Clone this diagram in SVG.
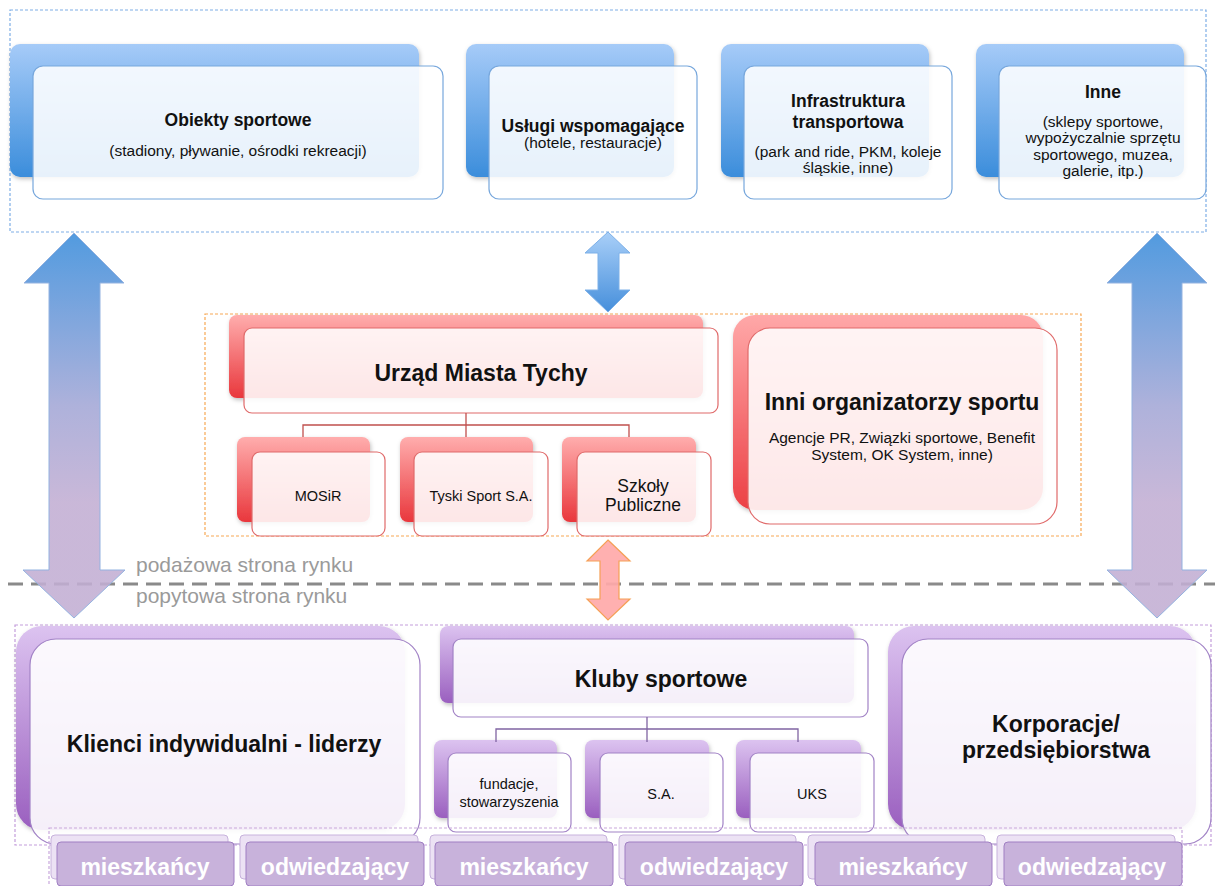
<svg xmlns="http://www.w3.org/2000/svg" width="1215" height="886" viewBox="0 0 1215 886">
<defs>
<linearGradient id="gBlue" x1="0" y1="0" x2="0" y2="1"><stop offset="0" stop-color="#a6cbf8"/><stop offset="1" stop-color="#3b8ddb"/></linearGradient>
<linearGradient id="gRed" x1="0" y1="0" x2="0" y2="1"><stop offset="0" stop-color="#ffadad"/><stop offset="1" stop-color="#e9373c"/></linearGradient>
<linearGradient id="gRedH" x1="0" y1="0" x2="0" y2="1"><stop offset="0" stop-color="#ffa8a8"/><stop offset="1" stop-color="#ec4045"/></linearGradient>
<linearGradient id="gPurple" x1="0" y1="0" x2="0" y2="1"><stop offset="0" stop-color="#dcc3f0"/><stop offset="1" stop-color="#9a5fbf"/></linearGradient>
<linearGradient id="gArrowBig" gradientUnits="userSpaceOnUse" x1="0" y1="233" x2="0" y2="618"><stop offset="0" stop-color="#3a8ddb"/><stop offset="0.45" stop-color="#a3a7d6"/><stop offset="0.7" stop-color="#c2aed3"/><stop offset="1" stop-color="#c2aed3"/></linearGradient>
<linearGradient id="gArrowMid" x1="0" y1="0" x2="0" y2="1"><stop offset="0" stop-color="#a9cff8"/><stop offset="1" stop-color="#468fdb"/></linearGradient>
<filter id="sh" x="-10%" y="-10%" width="130%" height="130%"><feDropShadow dx="1" dy="2" stdDeviation="2" flood-color="#000" flood-opacity="0.25"/></filter>
</defs>
<style>
text{font-family:"Liberation Sans",Arial,sans-serif;fill:#111;text-anchor:middle}
.b{font-weight:bold}
.t18{font-size:17.5px}
.t23{font-size:23px}
.s15{font-size:15.5px}
.s14{font-size:14.5px}
.bf{fill:url(#gBlue);filter:url(#sh)}
.bfr{fill:rgba(255,255,255,0.88);stroke:#77a7dc;stroke-width:1.2}
.rf{fill:url(#gRed);filter:url(#sh)}
.rfr{fill:rgba(255,255,255,0.88);stroke:#e06a6a;stroke-width:1.2}
.pf{fill:url(#gPurple);filter:url(#sh)}
.pfr{fill:rgba(255,255,255,0.9);stroke:#a283c6;stroke-width:1.2}
.tagb{fill:#ece2f4;stroke:#c7b2dc;stroke-width:1}
.tagf{fill:#c8b2db;stroke:#a07fc3;stroke-width:1}
.tagt{font-size:23px;font-weight:bold;fill:#fff}
.gray{font-size:21px;fill:#9a9a9a;text-anchor:start}
.cont{fill:none;stroke-width:1.2;stroke-dasharray:3 2}
</style>

<!-- containers -->
<rect class="cont" x="10" y="10" width="1196" height="222" stroke="#7eaee6"/>
<rect class="cont" x="205" y="314" width="876" height="222" stroke="#f7a854"/>
<line x1="8" y1="584" x2="1215" y2="584" stroke="#8a8a8a" stroke-width="3" stroke-dasharray="15 8"/>
<text class="gray" x="136" y="572">podażowa strona rynku</text>
<text class="gray" x="136" y="603">popytowa strona rynku</text>
<rect class="cont" x="15" y="625" width="1196" height="220" stroke="#c39ddb"/>

<!-- top row -->
<g id="obiekty">
<rect class="bf" x="10" y="44" width="409" height="133" rx="10"/>
<rect class="bfr" x="33" y="66" width="410" height="133" rx="10"/>
<text class="b t18" x="238" y="126">Obiekty sportowe</text>
<text class="s15" x="238" y="156">(stadiony, pływanie, ośrodki rekreacji)</text>
</g>
<g id="uslugi">
<rect class="bf" x="466" y="44" width="208" height="133" rx="10"/>
<rect class="bfr" x="489" y="66" width="208" height="133" rx="10"/>
<text class="b t18" x="593" y="132">Usługi wspomagające</text>
<text class="s15" x="593" y="148">(hotele, restauracje)</text>
</g>
<g id="infrastruktura">
<rect class="bf" x="721" y="44" width="208" height="133" rx="10"/>
<rect class="bfr" x="744" y="66" width="208" height="133" rx="10"/>
<text class="b t18" x="848" y="107">Infrastruktura</text>
<text class="b t18" x="848" y="128">transportowa</text>
<text class="s15" x="848" y="157">(park and ride, PKM, koleje</text>
<text class="s15" x="848" y="173">śląskie, inne)</text>
</g>
<g id="inne">
<rect class="bf" x="976" y="44" width="208" height="133" rx="10"/>
<rect class="bfr" x="999" y="66" width="207" height="133" rx="10"/>
<text class="b t18" x="1103" y="98">Inne</text>
<text class="s15" x="1103" y="127">(sklepy sportowe,</text>
<text class="s15" x="1103" y="143">wypożyczalnie sprzętu</text>
<text class="s15" x="1103" y="160">sportowego, muzea,</text>
<text class="s15" x="1103" y="176">galerie, itp.)</text>
</g>

<!-- middle row -->
<g id="urzad">
<rect class="rf" x="229" y="315" width="474" height="83" rx="8"/>
<rect class="rfr" x="244" y="328" width="474" height="85" rx="8"/>
<text class="b t23" x="481" y="381">Urząd Miasta Tychy</text>
</g>
<g id="mosir">
<rect class="rf" x="237" y="437" width="133" height="85" rx="8"/>
<rect class="rfr" x="252" y="452" width="133" height="84" rx="8"/>
<text class="s14" x="318" y="501">MOSiR</text>
</g>
<g id="tyski">
<rect class="rf" x="400" y="437" width="133" height="85" rx="8"/>
<rect class="rfr" x="414" y="452" width="134" height="84" rx="8"/>
<text class="s14" x="481" y="501">Tyski Sport S.A.</text>
</g>
<g id="szkoly">
<rect class="rf" x="562" y="437" width="134" height="85" rx="8"/>
<rect class="rfr" x="577" y="452" width="134" height="84" rx="8"/>
<text x="643" y="492" style="font-size:17.5px">Szkoły</text>
<text x="643" y="511" style="font-size:17.5px">Publiczne</text>
</g>
<g id="inni">
<rect x="733" y="315" width="310" height="195" rx="22" style="fill:url(#gRedH);filter:url(#sh)"/>
<rect class="rfr" x="748" y="328" width="309" height="196" rx="22"/>
<text class="b t23" x="902" y="410">Inni organizatorzy sportu</text>
<text class="s15" x="902" y="443">Agencje PR, Związki sportowe, Benefit</text>
<text class="s15" x="902" y="460">System, OK System, inne)</text>
</g>

<!-- bottom row -->
<g id="klienci">
<rect class="pf" x="16" y="626" width="389" height="204" rx="26"/>
<rect class="pfr" x="30" y="639" width="390" height="205" rx="26"/>
<text class="b t23" x="224" y="752">Klienci indywidualni - liderzy</text>
</g>
<g id="kluby">
<rect class="pf" x="440" y="626" width="414" height="77" rx="8"/>
<rect class="pfr" x="453" y="639" width="415" height="78" rx="8"/>
<text class="b t23" x="661" y="687">Kluby sportowe</text>
</g>
<g id="fundacje">
<rect class="pf" x="434" y="740" width="123" height="78" rx="8"/>
<rect class="pfr" x="448" y="753" width="123" height="79" rx="8"/>
<text class="s14" x="509" y="789">fundacje,</text>
<text class="s14" x="509" y="807">stowarzyszenia</text>
</g>
<g id="sa">
<rect class="pf" x="585" y="740" width="124" height="78" rx="8"/>
<rect class="pfr" x="600" y="753" width="123" height="79" rx="8"/>
<text class="s14" x="661" y="799">S.A.</text>
</g>
<g id="uks">
<rect class="pf" x="736" y="740" width="125" height="78" rx="8"/>
<rect class="pfr" x="750" y="753" width="124" height="79" rx="8"/>
<text class="s14" x="812" y="799">UKS</text>
</g>
<g id="korporacje">
<rect class="pf" x="888" y="626" width="308" height="204" rx="26"/>
<rect class="pfr" x="902" y="639" width="309" height="205" rx="26"/>
<text class="b t23" x="1056" y="732">Korporacje/</text>
<text class="b t23" x="1056" y="758">przedsiębiorstwa</text>
</g>

<!-- tags -->
<rect class="cont" x="49" y="828" width="1133" height="70" stroke="#c9a8dc"/>
<g id="tag1"><rect class="tagb" x="51" y="835" width="177" height="44" rx="4"/><rect class="tagf" x="57" y="842" width="177" height="44" rx="4"/><text class="tagt" x="145" y="875">mieszkańcy</text></g>
<g id="tag2"><rect class="tagb" x="240" y="835" width="178" height="44" rx="4"/><rect class="tagf" x="246" y="842" width="178" height="44" rx="4"/><text class="tagt" x="335" y="875">odwiedzający</text></g>
<g id="tag3"><rect class="tagb" x="430" y="835" width="177" height="44" rx="4"/><rect class="tagf" x="435" y="842" width="178" height="44" rx="4"/><text class="tagt" x="524" y="875">mieszkańcy</text></g>
<g id="tag4"><rect class="tagb" x="619" y="835" width="177" height="44" rx="4"/><rect class="tagf" x="625" y="842" width="178" height="44" rx="4"/><text class="tagt" x="714" y="875">odwiedzający</text></g>
<g id="tag5"><rect class="tagb" x="808" y="835" width="177" height="44" rx="4"/><rect class="tagf" x="815" y="842" width="177" height="44" rx="4"/><text class="tagt" x="903" y="875">mieszkańcy</text></g>
<g id="tag6"><rect class="tagb" x="997" y="835" width="178" height="44" rx="4"/><rect class="tagf" x="1004" y="842" width="178" height="44" rx="4"/><text class="tagt" x="1092" y="875">odwiedzający</text></g>

<!-- connectors -->
<g id="connectors" fill="none">
<path d="M466 413V425M303 437V425H629V437M466 425V437" stroke="#c0504d" stroke-width="1.3"/>
<path d="M647 717V729M496 742V729H798V742M647 729V742" stroke="#8064a2" stroke-width="1.3"/>
<polygon points="608,232 630,253 619,253 619,290 630,290 608,312 585,290 598,290 598,253 585,253" fill="url(#gArrowMid)" stroke="#7db0e8" stroke-width="1"/>
<polygon points="608,540 630,561 619,561 619,599 630,599 608,620 587,599 600,599 600,561 587,561" fill="#ffa9a9" fill-opacity="0.92" stroke="#f5a055" stroke-width="1.2"/>
<polygon points="74,233 124,283 100,283 100,570 125,570 74,618 23,570 49,570 49,283 24,283" fill="url(#gArrowBig)" fill-opacity="0.88" stroke="#93b2e0" stroke-width="1"/>
<polygon points="1157,233 1207,283 1182,283 1182,570 1207,570 1157,618 1107,570 1132,570 1132,283 1107,283" fill="url(#gArrowBig)" fill-opacity="0.88" stroke="#93b2e0" stroke-width="1"/>
</g>
</svg>
